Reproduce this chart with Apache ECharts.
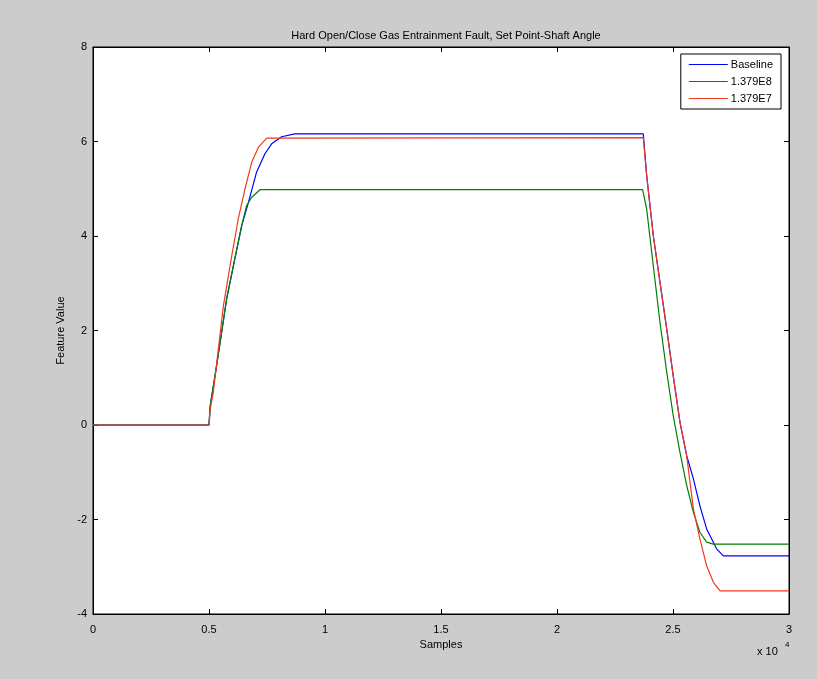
<!DOCTYPE html>
<html>
<head>
    <meta charset="utf-8">
    <title>ECharts</title>
    <script src="https://cdn.jsdelivr.net/npm/echarts@6.0.0/dist/echarts.min.js"></script>
    <style>
      body { padding: 0; margin: 0; background: #cccccc; }
      #main { width: 817px; height: 679px; }
    </style>
</head>
<body>
  <div id="main"></div>
  <script type="text/javascript">
    // values: [sample, feature value]
    var baseline = [
      [0, 0], [5000, 0], [5050, 0.4], [5330, 1.26], [5760, 2.67], [6050, 3.37],
      [6410, 4.22], [6700, 4.71], [7050, 5.35], [7410, 5.74], [7700, 5.95],
      [8130, 6.10], [8700, 6.16], [23720, 6.16], [23865, 5.28], [24150, 4.01],
      [24440, 3.02], [24730, 2.03], [25010, 1.04], [25300, 0.06], [25590, -0.65],
      [25880, -1.14], [26160, -1.71], [26450, -2.20], [26880, -2.62], [27170, -2.77],
      [30000, -2.77]
    ]
    var run1379E8 = [
      [0, 0], [5000, 0], [5050, 0.4], [5330, 1.26], [5760, 2.67], [6050, 3.37],
      [6410, 4.22], [6620, 4.64], [6840, 4.82], [7200, 4.98], [23690, 4.98],
      [23865, 4.57], [24150, 3.37], [24440, 2.17], [24730, 1.12], [25010, 0.20],
      [25300, -0.58], [25590, -1.28], [25880, -1.85], [26160, -2.27], [26450, -2.48],
      [26740, -2.52], [30000, -2.52]
    ]
    var run1379E7 = [
      [0, 0], [5010, 0], [5040, 0.3], [5185, 0.69], [5620, 2.52], [5980, 3.58],
      [6260, 4.36], [6550, 4.99], [6840, 5.56], [7130, 5.88], [7490, 6.07],
      [23720, 6.08], [23865, 5.28], [24150, 4.01], [24440, 3.02], [24730, 2.03],
      [25010, 1.04], [25300, 0.06], [25590, -0.65], [25880, -1.78], [26160, -2.41],
      [26450, -2.98], [26740, -3.33], [27030, -3.51], [30000, -3.51]
    ]
    var seriesNames = ['Baseline', '1.379E8', '1.379E7']
    var seriesColors = ['#0000ff', '#008000', '#ee3a1c']

    var font = 'Liberation Sans, Arial, sans-serif'
    var myChart = echarts.init(document.getElementById('main'))

    var tickStyle = { show: true, inside: true, length: 5, lineStyle: { color: '#000' } }
    var lineAxis = { show: true, onZero: false, lineStyle: { color: '#000' } }

    option = {
      backgroundColor: '#cccccc',
      animation: false,
      title: {
        text: 'Hard Open/Close Gas Entrainment Fault, Set Point-Shaft Angle',
        left: 441,
        top: 25,
        textAlign: 'center',
        textStyle: { fontFamily: font, fontSize: 11, fontWeight: 'normal', color: '#000' }
      },
      legend: {
        orient: 'vertical',
        right: 36,
        top: 54,
        data: seriesNames,
        backgroundColor: '#fff',
        borderColor: '#000',
        borderWidth: 1,
        borderRadius: 0,
        padding: [5, 8, 5, 8],
        itemGap: 6,
        itemWidth: 39,
        itemHeight: 1,
        icon: 'rect',
        textStyle: { fontFamily: font, fontSize: 11, color: '#000', padding: [0, 0, 0, -2] }
      },
      grid: {
        left: 93, right: 28, top: 47, bottom: 65,
        show: true, backgroundColor: '#fff', borderColor: '#000', borderWidth: 1
      },
      xAxis: [{
        type: 'value', min: 0, max: 30000, interval: 5000,
        name: 'Samples', nameLocation: 'middle', nameGap: 25,
        nameTextStyle: { fontFamily: font, fontSize: 11, color: '#000' },
        axisLine: lineAxis,
        axisTick: tickStyle,
        splitLine: { show: false },
        axisLabel: {
          fontFamily: font, fontSize: 11, color: '#000', margin: 10,
          formatter: function (v) { return String(v / 10000) }
        }
      }, {
        type: 'value', position: 'top', min: 0, max: 30000, interval: 5000,
        axisLine: lineAxis,
        axisTick: tickStyle, axisLabel: { show: false }, splitLine: { show: false }
      }],
      yAxis: [{
        type: 'value', min: -4, max: 8, interval: 2,
        name: 'Feature Value', nameLocation: 'middle', nameGap: 27,
        nameTextStyle: { fontFamily: font, fontSize: 11, color: '#000' },
        axisLine: lineAxis,
        axisTick: tickStyle,
        splitLine: { show: false },
        axisLabel: { fontFamily: font, fontSize: 11, color: '#000', margin: 6 }
      }, {
        type: 'value', position: 'right', min: -4, max: 8, interval: 2,
        axisLine: lineAxis,
        axisTick: tickStyle, axisLabel: { show: false }, splitLine: { show: false }
      }],
      graphic: [{
        type: 'text', left: 757, top: 646,
        style: { text: 'x 10', font: '11px ' + font, fill: '#000' }
      }, {
        type: 'text', left: 785, top: 641,
        style: { text: '4', font: '8px ' + font, fill: '#000' }
      }],
      series: [baseline, run1379E8, run1379E7].map(function (d, i) {
        return {
          name: seriesNames[i],
          type: 'line',
          data: d,
          showSymbol: false,
          symbol: 'none',
          lineStyle: { color: seriesColors[i], width: 1.2 },
          itemStyle: { color: seriesColors[i] },
          z: 3 + i
        }
      })
    }
    myChart.setOption(option)
  </script>
</body>
</html>
